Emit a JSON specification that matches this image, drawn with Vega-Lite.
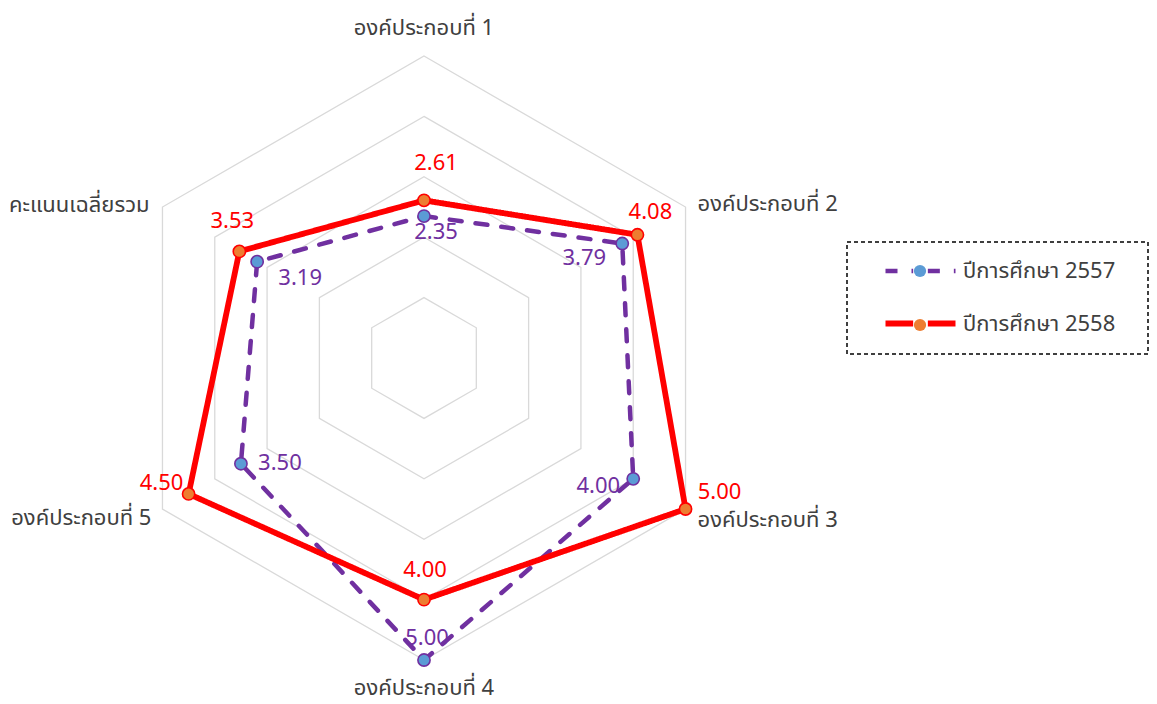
{
  "$schema": "https://vega.github.io/schema/vega-lite/v6.json",
  "width": 1157,
  "height": 704,
  "autosize": {"type": "none"},
  "padding": 0,
  "background": "white",
  "config": {
    "view": {"stroke": null},
    "font": "Noto Sans Thai, Leelawadee UI, Tahoma, Noto Sans, sans-serif",
    "legend": {"strokeDash": [4, 3], "strokeWidth": 1.5}
  },
  "datasets": {
    "scores": [
      {"cat": "องค์ประกอบที่ 1", "i": 0, "series": "ปีการศึกษา 2557", "year": 2557, "value": 2.35},
      {"cat": "องค์ประกอบที่ 2", "i": 1, "series": "ปีการศึกษา 2557", "year": 2557, "value": 3.79},
      {"cat": "องค์ประกอบที่ 3", "i": 2, "series": "ปีการศึกษา 2557", "year": 2557, "value": 4.00},
      {"cat": "องค์ประกอบที่ 4", "i": 3, "series": "ปีการศึกษา 2557", "year": 2557, "value": 5.00},
      {"cat": "องค์ประกอบที่ 5", "i": 4, "series": "ปีการศึกษา 2557", "year": 2557, "value": 3.50},
      {"cat": "คะแนนเฉลี่ยรวม", "i": 5, "series": "ปีการศึกษา 2557", "year": 2557, "value": 3.19},
      {"cat": "องค์ประกอบที่ 1", "i": 0, "series": "ปีการศึกษา 2558", "year": 2558, "value": 2.61},
      {"cat": "องค์ประกอบที่ 2", "i": 1, "series": "ปีการศึกษา 2558", "year": 2558, "value": 4.08},
      {"cat": "องค์ประกอบที่ 3", "i": 2, "series": "ปีการศึกษา 2558", "year": 2558, "value": 5.00},
      {"cat": "องค์ประกอบที่ 4", "i": 3, "series": "ปีการศึกษา 2558", "year": 2558, "value": 4.00},
      {"cat": "องค์ประกอบที่ 5", "i": 4, "series": "ปีการศึกษา 2558", "year": 2558, "value": 4.50},
      {"cat": "คะแนนเฉลี่ยรวม", "i": 5, "series": "ปีการศึกษา 2558", "year": 2558, "value": 3.53}
    ],
    "cats": [
      {"cat": "องค์ประกอบที่ 1", "i": 0, "max": 5},
      {"cat": "องค์ประกอบที่ 2", "i": 1, "max": 5},
      {"cat": "องค์ประกอบที่ 3", "i": 2, "max": 5},
      {"cat": "องค์ประกอบที่ 4", "i": 3, "max": 5},
      {"cat": "องค์ประกอบที่ 5", "i": 4, "max": 5},
      {"cat": "คะแนนเฉลี่ยรวม", "i": 5, "max": 5}
    ],
    "grid": [
      {"i": 0, "level": [1, 2, 3, 4, 5]},
      {"i": 1, "level": [1, 2, 3, 4, 5]},
      {"i": 2, "level": [1, 2, 3, 4, 5]},
      {"i": 3, "level": [1, 2, 3, 4, 5]},
      {"i": 4, "level": [1, 2, 3, 4, 5]},
      {"i": 5, "level": [1, 2, 3, 4, 5]}
    ]
  },
  "encoding": {
    "x": {"field": "x", "type": "quantitative", "scale": {"domain": [-7.02, 12.136], "nice": false, "zero": false}, "axis": null},
    "y": {"field": "y", "type": "quantitative", "scale": {"domain": [-5.728, 5.927], "nice": false, "zero": false}, "axis": null}
  },
  "layer": [
    {
      "data": {"name": "grid"},
      "transform": [
        {"flatten": ["level"]},
        {"calculate": "datum.level*sin(datum.i*PI/3)", "as": "x"},
        {"calculate": "datum.level*cos(datum.i*PI/3)", "as": "y"}
      ],
      "mark": {"type": "line", "interpolate": "linear-closed", "stroke": "#D9D9D9", "strokeWidth": 1.3},
      "encoding": {
        "detail": {"field": "level", "type": "nominal"},
        "order": {"field": "i", "type": "quantitative"}
      }
    },
    {
      "data": {"name": "scores"},
      "transform": [
        {"calculate": "datum.value*sin(datum.i*PI/3)", "as": "x"},
        {"calculate": "datum.value*cos(datum.i*PI/3)", "as": "y"}
      ],
      "mark": {"type": "line", "interpolate": "linear-closed", "strokeCap": "round", "strokeJoin": "round"},
      "encoding": {
        "color": {
          "field": "series", "type": "nominal",
          "scale": {"domain": ["ปีการศึกษา 2557", "ปีการศึกษา 2558"], "range": ["#7030A0", "#FF0000"]},
          "legend": {
            "title": null, "orient": "none", "legendX": 900, "legendY": 251,
            "symbolType": "M-2,0H-0.42M0.42,0H2", "symbolSize": 1225, "symbolStrokeWidth": 4.5,
            "labelFontSize": 22, "labelColor": "#404040", "labelOffset": 22,
            "padding": 0, "rowPadding": 21
          }
        },
        "strokeDash": {
          "field": "series", "type": "nominal",
          "scale": {"domain": ["ปีการศึกษา 2557", "ปีการศึกษา 2558"], "range": [[12, 14], [1, 0]]}
        },
        "strokeWidth": {
          "field": "series", "type": "nominal",
          "scale": {"domain": ["ปีการศึกษา 2557", "ปีการศึกษา 2558"], "range": [4.5, 5.8]},
          "legend": null
        },
        "order": {"field": "i", "type": "quantitative"}
      }
    },
    {
      "data": {"name": "scores"},
      "transform": [
        {"calculate": "datum.value*sin(datum.i*PI/3)", "as": "x"},
        {"calculate": "datum.value*cos(datum.i*PI/3)", "as": "y"}
      ],
      "mark": {"type": "circle", "size": 150, "strokeWidth": 1.6, "opacity": 1},
      "encoding": {
        "fill": {
          "field": "year", "type": "nominal",
          "scale": {"domain": [2557, 2558], "range": ["#5B9BD5", "#ED7D31"]},
          "legend": {
            "title": null, "orient": "none", "legendX": 847, "legendY": 242,
            "symbolType": "circle", "symbolSize": 150, "symbolStrokeWidth": 1.6, "symbolOffset": 44,
            "labelFontSize": 1, "labelExpr": "''", "labelOffset": 199,
            "padding": 22, "rowPadding": 40,
            "strokeColor": "black",
            "encode": {
              "symbols": {
                "stroke": {"condition": {"test": "datum.value == 2557", "value": "#7030A0"}, "value": "#FF0000"},
                "opacity": {"value": 1}
              }
            }
          }
        },
        "stroke": {
          "field": "series", "type": "nominal",
          "scale": {"domain": ["ปีการศึกษา 2557", "ปีการศึกษา 2558"], "range": ["#7030A0", "#FF0000"]},
          "legend": null
        }
      }
    },
    {"data": {"name": "scores"}, "transform": [{"filter": "datum.year == 2558 && datum.i == 0"}, {"calculate": "datum.value*sin(datum.i*PI/3)", "as": "x"}, {"calculate": "datum.value*cos(datum.i*PI/3)", "as": "y"}],
     "mark": {"type": "text", "baseline": "alphabetic", "fontSize": 22, "color": "#FF0000", "dx": 12, "dy": -30}, "encoding": {"text": {"field": "value", "type": "quantitative", "format": ".2f"}}},
    {"data": {"name": "scores"}, "transform": [{"filter": "datum.year == 2558 && datum.i == 1"}, {"calculate": "datum.value*sin(datum.i*PI/3)", "as": "x"}, {"calculate": "datum.value*cos(datum.i*PI/3)", "as": "y"}],
     "mark": {"type": "text", "baseline": "alphabetic", "fontSize": 22, "color": "#FF0000", "dx": 13, "dy": -16}, "encoding": {"text": {"field": "value", "type": "quantitative", "format": ".2f"}}},
    {"data": {"name": "scores"}, "transform": [{"filter": "datum.year == 2558 && datum.i == 2"}, {"calculate": "datum.value*sin(datum.i*PI/3)", "as": "x"}, {"calculate": "datum.value*cos(datum.i*PI/3)", "as": "y"}],
     "mark": {"type": "text", "baseline": "alphabetic", "fontSize": 22, "color": "#FF0000", "dx": 34, "dy": -10}, "encoding": {"text": {"field": "value", "type": "quantitative", "format": ".2f"}}},
    {"data": {"name": "scores"}, "transform": [{"filter": "datum.year == 2558 && datum.i == 3"}, {"calculate": "datum.value*sin(datum.i*PI/3)", "as": "x"}, {"calculate": "datum.value*cos(datum.i*PI/3)", "as": "y"}],
     "mark": {"type": "text", "baseline": "alphabetic", "fontSize": 22, "color": "#FF0000", "dx": 1, "dy": -23}, "encoding": {"text": {"field": "value", "type": "quantitative", "format": ".2f"}}},
    {"data": {"name": "scores"}, "transform": [{"filter": "datum.year == 2558 && datum.i == 4"}, {"calculate": "datum.value*sin(datum.i*PI/3)", "as": "x"}, {"calculate": "datum.value*cos(datum.i*PI/3)", "as": "y"}],
     "mark": {"type": "text", "baseline": "alphabetic", "fontSize": 22, "color": "#FF0000", "dx": -27, "dy": -4}, "encoding": {"text": {"field": "value", "type": "quantitative", "format": ".2f"}}},
    {"data": {"name": "scores"}, "transform": [{"filter": "datum.year == 2558 && datum.i == 5"}, {"calculate": "datum.value*sin(datum.i*PI/3)", "as": "x"}, {"calculate": "datum.value*cos(datum.i*PI/3)", "as": "y"}],
     "mark": {"type": "text", "baseline": "alphabetic", "fontSize": 22, "color": "#FF0000", "dx": -7, "dy": -23}, "encoding": {"text": {"field": "value", "type": "quantitative", "format": ".2f"}}},
    {"data": {"name": "scores"}, "transform": [{"filter": "datum.year == 2557 && datum.i == 0"}, {"calculate": "datum.value*sin(datum.i*PI/3)", "as": "x"}, {"calculate": "datum.value*cos(datum.i*PI/3)", "as": "y"}],
     "mark": {"type": "text", "baseline": "alphabetic", "fontSize": 22, "color": "#7030A0", "dx": 12, "dy": 23}, "encoding": {"text": {"field": "value", "type": "quantitative", "format": ".2f"}}},
    {"data": {"name": "scores"}, "transform": [{"filter": "datum.year == 2557 && datum.i == 1"}, {"calculate": "datum.value*sin(datum.i*PI/3)", "as": "x"}, {"calculate": "datum.value*cos(datum.i*PI/3)", "as": "y"}],
     "mark": {"type": "text", "baseline": "alphabetic", "fontSize": 22, "color": "#7030A0", "dx": -38, "dy": 21}, "encoding": {"text": {"field": "value", "type": "quantitative", "format": ".2f"}}},
    {"data": {"name": "scores"}, "transform": [{"filter": "datum.year == 2557 && datum.i == 2"}, {"calculate": "datum.value*sin(datum.i*PI/3)", "as": "x"}, {"calculate": "datum.value*cos(datum.i*PI/3)", "as": "y"}],
     "mark": {"type": "text", "baseline": "alphabetic", "fontSize": 22, "color": "#7030A0", "dx": -35, "dy": 14}, "encoding": {"text": {"field": "value", "type": "quantitative", "format": ".2f"}}},
    {"data": {"name": "scores"}, "transform": [{"filter": "datum.year == 2557 && datum.i == 3"}, {"calculate": "datum.value*sin(datum.i*PI/3)", "as": "x"}, {"calculate": "datum.value*cos(datum.i*PI/3)", "as": "y"}],
     "mark": {"type": "text", "baseline": "alphabetic", "fontSize": 22, "color": "#7030A0", "dx": 3, "dy": -15}, "encoding": {"text": {"field": "value", "type": "quantitative", "format": ".2f"}}},
    {"data": {"name": "scores"}, "transform": [{"filter": "datum.year == 2557 && datum.i == 4"}, {"calculate": "datum.value*sin(datum.i*PI/3)", "as": "x"}, {"calculate": "datum.value*cos(datum.i*PI/3)", "as": "y"}],
     "mark": {"type": "text", "baseline": "alphabetic", "fontSize": 22, "color": "#7030A0", "dx": 39, "dy": 6}, "encoding": {"text": {"field": "value", "type": "quantitative", "format": ".2f"}}},
    {"data": {"name": "scores"}, "transform": [{"filter": "datum.year == 2557 && datum.i == 5"}, {"calculate": "datum.value*sin(datum.i*PI/3)", "as": "x"}, {"calculate": "datum.value*cos(datum.i*PI/3)", "as": "y"}],
     "mark": {"type": "text", "baseline": "alphabetic", "fontSize": 22, "color": "#7030A0", "dx": 43, "dy": 23}, "encoding": {"text": {"field": "value", "type": "quantitative", "format": ".2f"}}},
    {"data": {"name": "cats"}, "transform": [{"filter": "datum.i == 0"}, {"calculate": "datum.max*sin(datum.i*PI/3)", "as": "x"}, {"calculate": "datum.max*cos(datum.i*PI/3)", "as": "y"}],
     "mark": {"type": "text", "baseline": "alphabetic", "align": "center", "fontSize": 22, "color": "#404040", "dx": 0, "dy": -21}, "encoding": {"text": {"field": "cat"}}},
    {"data": {"name": "cats"}, "transform": [{"filter": "datum.i == 1"}, {"calculate": "datum.max*sin(datum.i*PI/3)", "as": "x"}, {"calculate": "datum.max*cos(datum.i*PI/3)", "as": "y"}],
     "mark": {"type": "text", "baseline": "alphabetic", "align": "left", "fontSize": 22, "color": "#404040", "dx": 12, "dy": 4}, "encoding": {"text": {"field": "cat"}}},
    {"data": {"name": "cats"}, "transform": [{"filter": "datum.i == 2"}, {"calculate": "datum.max*sin(datum.i*PI/3)", "as": "x"}, {"calculate": "datum.max*cos(datum.i*PI/3)", "as": "y"}],
     "mark": {"type": "text", "baseline": "alphabetic", "align": "left", "fontSize": 22, "color": "#404040", "dx": 12, "dy": 18}, "encoding": {"text": {"field": "cat"}}},
    {"data": {"name": "cats"}, "transform": [{"filter": "datum.i == 3"}, {"calculate": "datum.max*sin(datum.i*PI/3)", "as": "x"}, {"calculate": "datum.max*cos(datum.i*PI/3)", "as": "y"}],
     "mark": {"type": "text", "baseline": "alphabetic", "align": "center", "fontSize": 22, "color": "#404040", "dx": 0, "dy": 35}, "encoding": {"text": {"field": "cat"}}},
    {"data": {"name": "cats"}, "transform": [{"filter": "datum.i == 4"}, {"calculate": "datum.max*sin(datum.i*PI/3)", "as": "x"}, {"calculate": "datum.max*cos(datum.i*PI/3)", "as": "y"}],
     "mark": {"type": "text", "baseline": "alphabetic", "align": "right", "fontSize": 22, "color": "#404040", "dx": -11, "dy": 16}, "encoding": {"text": {"field": "cat"}}},
    {"data": {"name": "cats"}, "transform": [{"filter": "datum.i == 5"}, {"calculate": "datum.max*sin(datum.i*PI/3)", "as": "x"}, {"calculate": "datum.max*cos(datum.i*PI/3)", "as": "y"}],
     "mark": {"type": "text", "baseline": "alphabetic", "align": "right", "fontSize": 22, "color": "#404040", "dx": -13, "dy": 5}, "encoding": {"text": {"field": "cat"}}}
  ]
}
